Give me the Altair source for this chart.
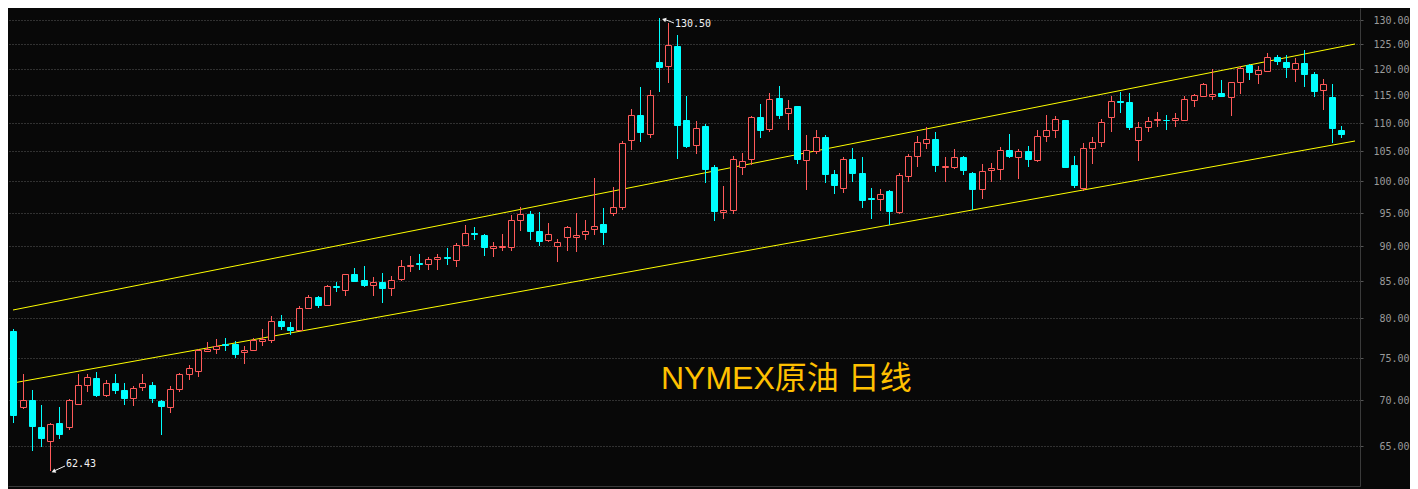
import altair as alt
import pandas as pd

# ---- daily candles (NYMEX crude) ----
opens = [78.4, 69.2, 70.0, 67.05, 65.55, 67.5, 67.0, 69.6, 71.8, 72.6,
         70.65, 72.0, 71.2, 70.3, 71.5, 71.8, 69.9, 69.2, 71.3, 73.05,
         73.4, 75.9, 76.1, 76.7, 76.7, 75.7, 76.0, 77.15, 77.2, 79.6,
         78.9, 78.5, 81.3, 82.85, 81.7, 84.35, 83.7, 86.0, 85.15, 84.5,
         84.85, 84.1, 85.25, 87.05, 87.5, 87.45, 88.1, 88.4, 87.95, 90.2,
         91.9, 91.6, 89.75, 89.9, 89.9, 93.8, 94.8, 92.25, 90.8, 90.05,
         91.25, 91.25, 91.7, 92.45, 93.25, 94.9, 95.95, 107.0, 111.35, 107.9,
         121.45, 120.6, 124.6, 110.4, 106.0, 109.4, 102.3, 95.15, 95.4, 102.3,
         103.65, 111.0, 108.85, 114.5, 111.7, 113.05, 103.5, 105.1, 107.5, 101.15,
         98.85, 103.65, 101.3, 97.25, 97.1, 98.4, 95.15, 100.9, 104.15, 106.4,
         107.1, 102.25, 102.4, 104.0, 101.35, 98.65, 101.75, 102.05, 105.2, 104.0,
         105.05, 103.5, 107.6, 108.65, 110.5, 102.65, 98.95, 105.6, 106.65, 110.95,
         114.0, 113.7, 106.85, 109.2, 110.5, 110.55, 110.4, 110.55, 114.2, 114.9,
         114.9, 115.45, 114.75, 117.5, 120.8, 119.05, 119.7, 122.35, 121.45, 120.1,
         121.2, 119.1, 115.95, 114.7, 108.7]
highs = [78.6, 73.0, 71.2, 69.5, 67.5, 69.25, 70.15, 73.1, 73.1, 73.3,
         72.4, 73.1, 72.0, 71.7, 73.1, 72.15, 70.0, 71.6, 73.2, 74.1,
         76.1, 77.0, 77.4, 77.5, 77.1, 76.5, 77.5, 78.6, 80.3, 80.4,
         79.5, 81.6, 83.1, 83.0, 84.5, 84.9, 85.95, 86.85, 87.1, 85.6,
         86.1, 85.7, 88.0, 88.55, 88.85, 88.4, 88.85, 89.7, 90.4, 93.15,
         92.8, 91.75, 90.55, 91.75, 94.65, 95.85, 95.25, 95.1, 93.45, 91.05,
         92.95, 94.95, 93.9, 100.45, 95.7, 99.05, 106.75, 112.5, 116.55, 116.0,
         130.5, 129.45, 126.9, 114.85, 110.25, 109.75, 102.7, 99.2, 104.15, 104.7,
         111.15, 113.4, 115.45, 116.8, 114.1, 113.1, 107.85, 108.7, 107.85, 101.85,
         104.0, 105.5, 104.0, 98.9, 98.7, 98.55, 101.3, 104.5, 107.65, 109.2,
         108.35, 104.0, 105.35, 104.25, 101.55, 102.85, 103.0, 105.7, 108.0, 105.4,
         105.9, 108.65, 111.4, 111.2, 110.55, 104.15, 106.4, 107.45, 110.6, 114.8,
         115.55, 115.4, 110.05, 110.95, 111.95, 111.4, 111.75, 114.8, 115.2, 117.35,
         120.0, 117.85, 117.6, 120.6, 121.05, 120.6, 123.15, 122.85, 122.85, 122.15,
         123.75, 119.5, 118.1, 117.15, 109.35]
lows = [67.5, 69.0, 64.5, 64.9, 62.43, 65.7, 66.7, 69.6, 71.0, 70.4,
        70.4, 70.7, 69.5, 69.4, 71.1, 69.7, 66.2, 68.6, 70.9, 72.3,
        72.65, 75.7, 75.5, 75.9, 75.0, 74.3, 75.8, 76.5, 76.8, 78.5,
        77.9, 78.3, 81.3, 81.4, 81.7, 83.5, 83.0, 84.95, 84.2, 82.9,
        81.95, 83.0, 84.95, 86.3, 86.5, 86.5, 86.6, 87.2, 86.9, 90.2,
        90.8, 88.6, 88.45, 89.2, 89.3, 92.15, 90.8, 90.05, 90.6, 87.6,
        89.2, 89.15, 90.8, 91.55, 90.15, 94.55, 95.45, 105.25, 106.5, 107.35,
        115.7, 117.3, 103.75, 105.6, 104.6, 99.75, 93.65, 94.1, 94.85, 101.05,
        102.65, 107.2, 108.4, 110.7, 108.75, 102.9, 98.5, 104.6, 99.75, 97.85,
        98.15, 99.9, 95.8, 93.95, 95.3, 93.15, 94.85, 99.9, 102.25, 105.45,
        101.55, 99.9, 102.05, 101.05, 95.4, 97.2, 99.9, 100.25, 103.9, 100.4,
        102.25, 103.15, 106.55, 107.35, 102.25, 98.95, 98.4, 102.8, 105.7, 108.25,
        111.8, 108.6, 103.4, 108.25, 109.3, 108.7, 109.3, 110.35, 112.9, 114.9,
        114.2, 114.75, 111.25, 115.3, 117.95, 117.2, 119.35, 120.9, 118.35, 117.6,
        116.65, 114.75, 112.35, 106.45, 107.35]
closes = [68.3, 70.0, 67.1, 65.8, 67.4, 66.3, 70.0, 71.8, 72.7, 70.6,
          72.0, 71.2, 70.3, 71.4, 72.0, 70.2, 69.3, 71.3, 73.05, 73.8,
          76.0, 76.15, 76.5, 76.55, 75.5, 76.0, 77.2, 77.3, 79.6, 79.05,
          78.5, 81.3, 82.85, 81.8, 84.3, 84.2, 85.95, 85.0, 84.5, 84.85,
          84.1, 85.15, 87.15, 87.3, 87.35, 88.1, 88.4, 88.25, 90.1, 91.9,
          91.7, 89.9, 89.95, 90.05, 93.85, 94.8, 92.15, 90.65, 91.75, 90.55,
          92.8, 91.6, 92.2, 92.95, 92.0, 95.85, 106.4, 111.35, 108.25, 115.0,
          120.5, 124.75, 109.65, 105.95, 109.0, 102.05, 95.3, 95.4, 103.65, 103.3,
          110.95, 108.75, 114.25, 111.45, 112.6, 103.6, 105.15, 107.45, 101.25, 99.45,
          103.65, 101.4, 97.05, 97.1, 97.9, 95.3, 100.95, 104.15, 106.55, 107.1,
          102.6, 102.5, 104.0, 101.9, 98.65, 101.65, 102.15, 105.15, 104.25, 105.0,
          103.6, 107.6, 108.65, 110.6, 102.4, 99.45, 105.5, 106.55, 110.05, 113.9,
          113.8, 109.3, 109.2, 110.25, 110.7, 110.4, 110.85, 114.25, 115.0, 117.1,
          115.25, 114.9, 117.5, 120.2, 119.5, 119.8, 122.35, 121.55, 120.5, 121.2,
          119.15, 115.9, 117.1, 108.95, 107.9]

# channel lines (start / end of the drawn trend channel)
channel_x = [0.968, 146.5]
upper_line = [81.07, 124.95]
lower_line = [72.05, 106.81]

y_ticks = [65, 70, 75, 80, 85, 90, 95, 100, 105, 110, 115, 120, 125, 130]

title_text = "NYMEX原油 日线"
high_idx, high_val, high_txt = 71, 130.50, "130.50"
low_idx, low_val, low_txt = 5, 62.43, "62.43"

BG = "#080808"
UP = "#ff5a5a"
DOWN = "#00ffff"
YELLOW = "#ffff00"

n = len(opens)
df = pd.DataFrame({
    "i": list(range(1, n + 1)),
    "open": opens, "high": highs, "low": lows, "close": closes,
})
df["dir"] = ["up" if c >= o else "down" for o, c in zip(opens, closes)]

xscale = alt.Scale(domain=[0.968, 146.5], nice=False, zero=False, round=True)
yscale = alt.Scale(type="log", domain=[60.88, 132.56], nice=False, round=True)
xaxis = alt.Axis(labels=False, ticks=False, grid=False, title=None,
                 domainColor="#3a3a3a", domainWidth=1)
yaxis = alt.Axis(orient="right", values=y_ticks, format=".2f", title=None,
                 grid=True, gridColor="#5a5a5a", gridDash=[1, 2], gridWidth=1,
                 labelFont="DejaVu Sans Mono", labelFontSize=10,
                 labelColor="#9a9a9a", labelAlign="right", labelPadding=46,
                 tickSize=3, tickColor="#555555", domainColor="#3a3a3a",
                 labelOverlap=False)

X = lambda f: alt.X(f, scale=xscale, axis=xaxis)
Y = lambda f: alt.Y(f, scale=yscale, axis=yaxis)

chan = pd.DataFrame({
    "x": channel_x + channel_x,
    "price": upper_line + lower_line,
    "line": ["upper", "upper", "lower", "lower"],
})
lines = alt.Chart(chan).mark_line(color=YELLOW, strokeWidth=1).encode(
    x=X("x:Q"), y=Y("price:Q"), detail="line:N")

base = alt.Chart(df)
wicks = base.mark_rule(strokeWidth=1, xOffset=0.5).encode(
    x=X("i:Q"), y=Y("low:Q"), y2="high:Q",
    color=alt.Color("dir:N", scale=alt.Scale(domain=["up", "down"], range=[UP, DOWN]),
                    legend=None))
bodies = base.mark_bar(width=6, strokeWidth=1, xOffset=0.5, yOffset=0.5, y2Offset=0.5).encode(
    x=X("i:Q"), y=Y("open:Q"), y2="close:Q",
    stroke=alt.Stroke("dir:N", scale=alt.Scale(domain=["up", "down"], range=[UP, DOWN]),
                      legend=None),
    fill=alt.Fill("dir:N", scale=alt.Scale(domain=["up", "down"], range=[BG, DOWN]),
                  legend=None))

hi = alt.Chart(pd.DataFrame({"i": [high_idx], "p": [high_val], "t": [high_txt]}))
lo = alt.Chart(pd.DataFrame({"i": [low_idx], "p": [low_val], "t": [low_txt]}))
MONO = "DejaVu Sans Mono"

hi_text = hi.mark_text(align="left", baseline="middle", dx=16, dy=6, font=MONO,
                       fontSize=10, color="#f2f2f2").encode(x=X("i:Q"), y=Y("p:Q"), text="t:N")
hi_rule = hi.mark_rule(color="#f2f2f2", strokeWidth=1, xOffset=6, yOffset=1.5,
                       x2Offset=15, y2Offset=5).encode(x=X("i:Q"), x2="i:Q", y=Y("p:Q"), y2="p:Q")
hi_head = hi.mark_point(shape="triangle-left", filled=True, size=22, color="#f2f2f2",
                        angle=17, xOffset=5, yOffset=1.5, opacity=1).encode(x=X("i:Q"), y=Y("p:Q"))

lo_text = lo.mark_text(align="left", baseline="middle", dx=16, dy=-7.5, font=MONO,
                       fontSize=10, color="#f2f2f2").encode(x=X("i:Q"), y=Y("p:Q"), text="t:N")
lo_rule = lo.mark_rule(color="#f2f2f2", strokeWidth=1, xOffset=4, yOffset=0,
                       x2Offset=15, y2Offset=-5).encode(x=X("i:Q"), x2="i:Q", y=Y("p:Q"), y2="p:Q")
lo_head = lo.mark_point(shape="triangle-left", filled=True, size=22, color="#f2f2f2",
                        angle=336, xOffset=3.5, yOffset=0.5, opacity=1).encode(x=X("i:Q"), y=Y("p:Q"))

title = alt.Chart(pd.DataFrame({"t": [title_text]})).mark_text(
    align="left", baseline="alphabetic", font="Liberation Sans, Noto Sans CJK SC",
    fontSize=32, color="#ffc000").encode(x=alt.value(653), y=alt.value(381), text="t:N")

chart = alt.layer(lines, wicks, bodies, hi_rule, hi_head, hi_text,
                  lo_rule, lo_head, lo_text, title).properties(
    width=1352, height=478, background=BG,
    padding={"left": 0, "top": 0, "right": 50, "bottom": 3},
    autosize=alt.AutoSizeParams(type="none"),
).configure_view(stroke=None)

chart.save("out.html", embed_options={"renderer": "svg", "actions": False})
